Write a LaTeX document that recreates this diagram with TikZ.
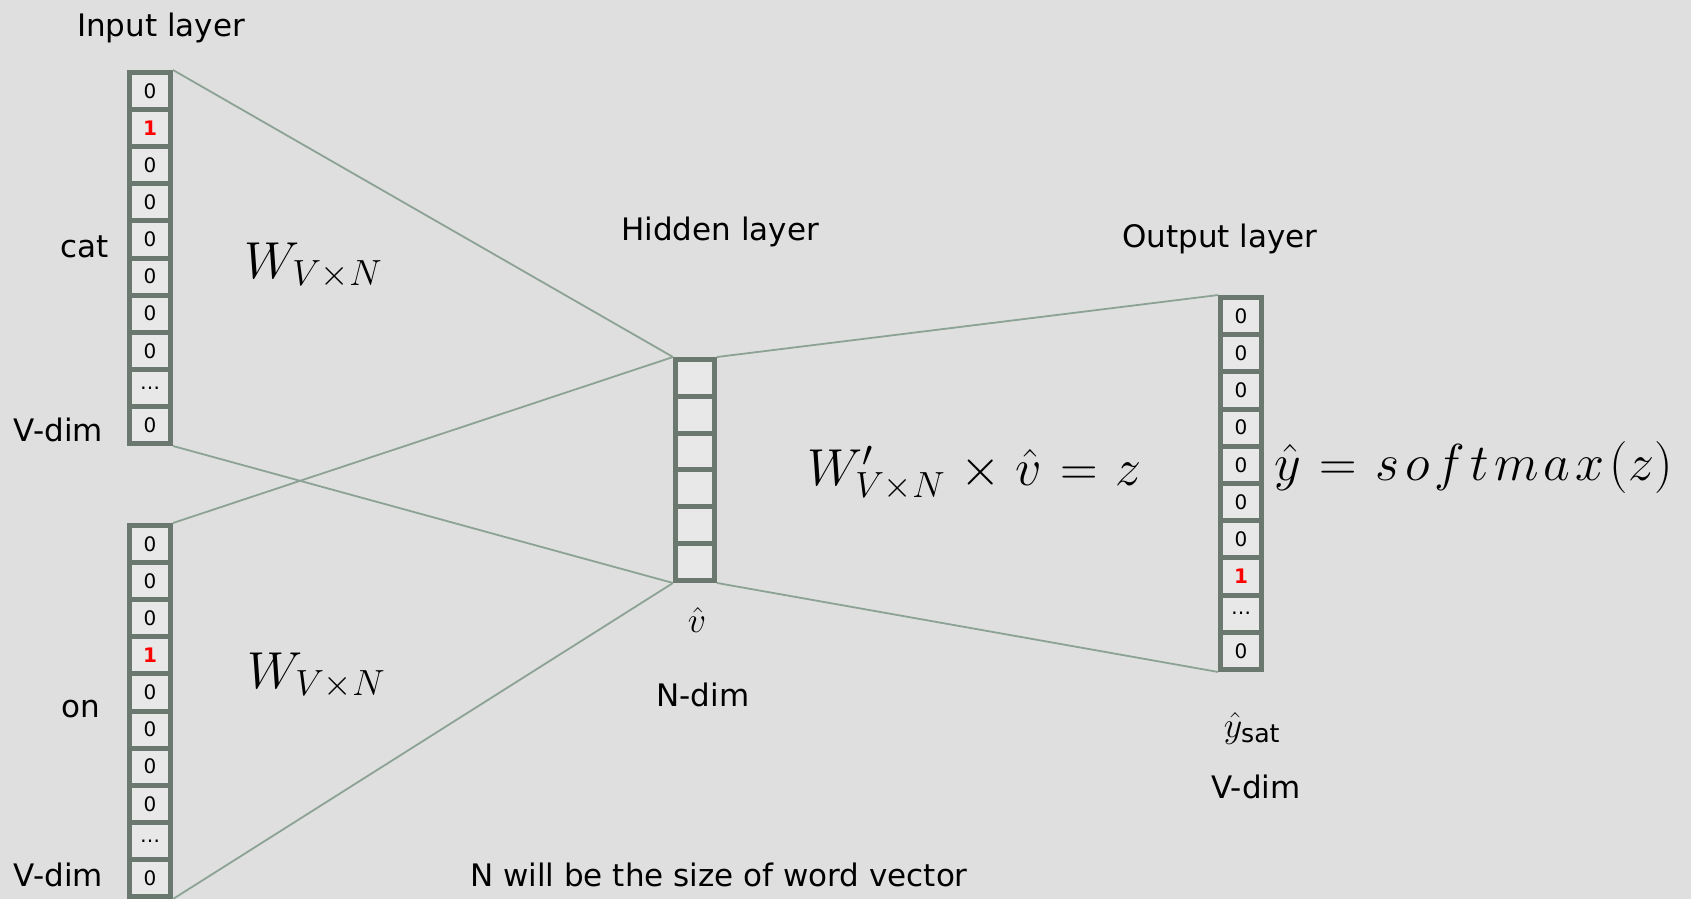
\RequirePackage{fix-cm}
\documentclass[tikz,border=0pt]{standalone}
\usepackage{fontspec}
\setmainfont{DejaVu Sans}
\definecolor{bgc}{HTML}{DFDFDF}
\definecolor{cellc}{HTML}{E8E8E8}
\definecolor{boxc}{HTML}{6B786F}
\definecolor{linkc}{HTML}{8CA295}
\newcommand\onehot{\textcolor{red}{\bfseries 1}}
\newcommand\labelfont{\fontsize{31}{37}\selectfont}
\newcommand\mathbig{\fontsize{52}{60}\selectfont}
\newcommand\mathsmall{\fontsize{36}{42}\selectfont}
\newcommand\lsp{\mkern1.8mu}
\newcommand\osp{\mkern1.2mu}
\tikzset{
  cell/.style={draw=boxc, line width=5pt, fill=cellc, inner sep=0pt,
    minimum width=41pt, minimum height=37.1pt, font=\fontsize{20}{20}\selectfont},
  hcell/.style={cell, minimum width=39pt, minimum height=36.83pt},
  link/.style={draw=linkc, line width=1.8pt},
  lbl/.style={inner sep=0pt, font=\labelfont},
  eq/.style={inner sep=0pt, font=\mathbig},
  seq/.style={inner sep=0pt, font=\mathsmall}
}
\begin{document}
\begin{tikzpicture}[x=1pt,y=-1pt]
\fill[bgc] (0,0) rectangle (1691,899);
\useasboundingbox (0,0) rectangle (1691,899);

% input vector for "cat"
\foreach \v [count=\i] in {0,\onehot,0,0,0,0,0,0,\textellipsis,0}
  \node[cell] (a\i) at (150,{72.5+37.1*(\i-0.5)}) {\v};
% input vector for "on"
\foreach \v [count=\i] in {0,0,0,\onehot,0,0,0,0,\textellipsis,0}
  \node[cell] (b\i) at (150,{525.5+37.1*(\i-0.5)}) {\v};
% hidden layer
\foreach \i in {1,...,6}
  \node[hcell] (h\i) at (695,{359.5+36.83*(\i-0.5)}) {};
% output vector
\foreach \v [count=\i] in {0,0,0,0,0,0,0,\onehot,\textellipsis,0}
  \node[cell] (o\i) at (1241,{297.5+37.2*(\i-0.5)}) {\v};

% weight connections
\draw[link] (a1.north east) -- (h1.north west);
\draw[link] (a10.south east) -- (h6.south west);
\draw[link] (b1.north east) -- (h1.north west);
\draw[link] (b10.south east) -- (h6.south west);
\draw[link] (h1.north east) -- (o1.north west);
\draw[link] (h6.south east) -- (o10.south west);

% labels
\node[lbl, anchor=base] (tin) at (161,37) {Input layer};
\node[lbl, anchor=base east] (tcat) at (109,257) {cat};
\node[lbl, anchor=base east] (tv1) at (103,441) {V-dim};
\node[lbl, anchor=base east] (ton) at (100,717) {on};
\node[lbl, anchor=base east] (tv2) at (103,886) {V-dim};
\node[lbl, anchor=base] (thid) at (720,240) {Hidden layer};
\node[seq, anchor=base] (tvh) at (697,632) {$\hat{v}$};
\node[lbl, anchor=base] (tnd) at (703,706) {N-dim};
\node[lbl, anchor=base] (tout) at (1220,247) {Output layer};
\node[seq, anchor=base] (tys) at (1252,737) {$\hat{y}_{\mathrm{sat}}$};
\node[lbl, anchor=base] (tv3) at (1256,798) {V-dim};
\node[lbl, anchor=base west] (tnote) at (470,886) {N will be the size of word vector};

% formulas
\node[eq, anchor=base west] (w1) at (244,278) {$W_{V\times N}$};
\node[eq, anchor=base west] (w2) at (247,688) {$W_{V\times N}$};
\node[eq, anchor=base west] (w3) at (807,485)
  {$W'_{V\times N}\osp\times\osp\hat{v}\osp=\osp z$};
\node[eq, anchor=base west] (w4) at (1274,480)
  {$\hat{y}\mkern1.5mu=\mkern1.5mu s\lsp o\lsp f\lsp t\lsp m\lsp a\lsp x\lsp(z)$};
\end{tikzpicture}
\end{document}
